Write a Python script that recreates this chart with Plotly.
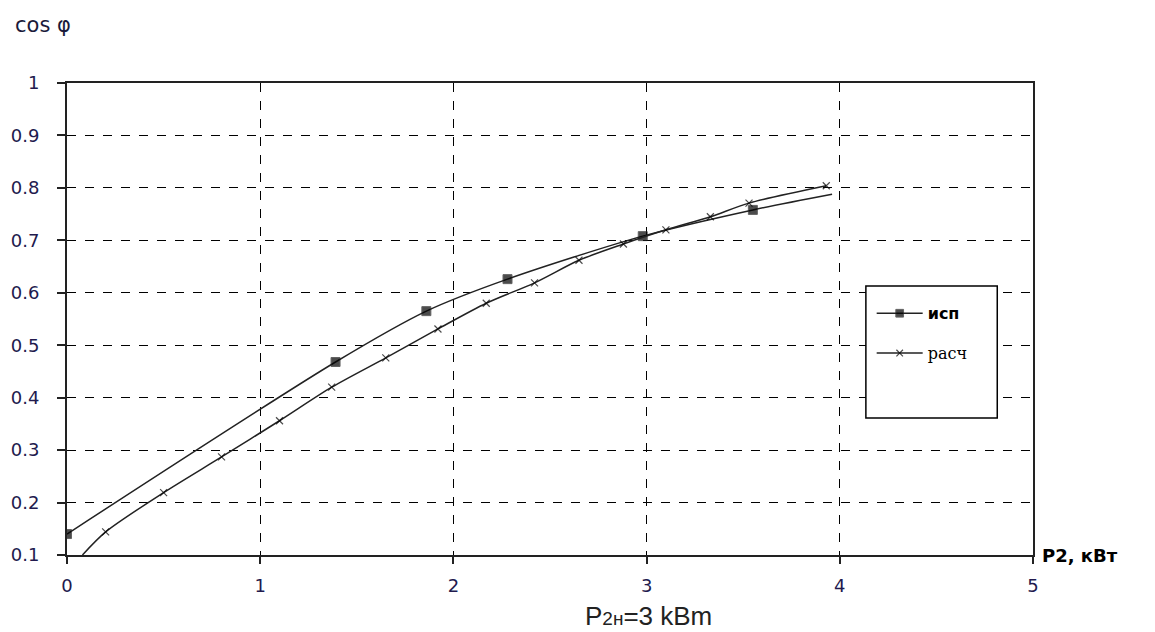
import plotly.graph_objects as go

# Data
isp_x = [0.0, 1.39, 1.86, 2.28, 2.98, 3.55, 3.96]
isp_y = [0.14, 0.468, 0.565, 0.626, 0.708, 0.758, 0.788]

rasch_x = [0.08, 0.2, 0.5, 0.8, 1.1, 1.37, 1.65, 1.92, 2.17, 2.42, 2.65, 2.88, 3.1, 3.33, 3.53, 3.93]
rasch_y = [0.1, 0.144, 0.219, 0.287, 0.356, 0.42, 0.476, 0.531, 0.58, 0.619, 0.662, 0.693, 0.72, 0.745, 0.771, 0.804]

x_ticks = [0, 1, 2, 3, 4, 5]
y_ticks = [0.1, 0.2, 0.3, 0.4, 0.5, 0.6, 0.7, 0.8, 0.9, 1]
y_tick_text = ["0.1", "0.2", "0.3", "0.4", "0.5", "0.6", "0.7", "0.8", "0.9", "1"]

label_color = "#221a4e"
tick_font = dict(family="DejaVu Sans, sans-serif", size=18, color=label_color)

fig = go.Figure()

isp_sizes = [9] * (len(isp_x) - 1) + [0]
fig.add_trace(go.Scatter(
    x=isp_x, y=isp_y, mode="lines+markers", name="<b>исп</b>",
    line=dict(color="#222", width=1.5, shape="spline", smoothing=0.8),
    marker=dict(symbol="square", size=isp_sizes, color="black"),
    legendgroup="a",
))
rasch_sizes = [0] + [7] * (len(rasch_x) - 1)
fig.add_trace(go.Scatter(
    x=rasch_x, y=rasch_y, mode="lines+markers",
    name="<span style=\"font-family:DejaVu Serif, serif\">расч</span>",
    line=dict(color="#222", width=1.5, shape="spline", smoothing=0.8),
    marker=dict(symbol="x-thin", size=rasch_sizes, color="black",
                line=dict(color="black", width=1.2)),
    legendgroup="b",
))

# legend frame
fig.add_shape(type="rect", xref="paper", yref="paper",
              x0=0.827, x1=0.963, y0=0.290, y1=0.570,
              fillcolor="white", line=dict(color="black", width=1.5), layer="above")

fig.update_layout(
    width=1155, height=632,
    margin=dict(l=67, r=122, t=83, b=77),
    paper_bgcolor="white", plot_bgcolor="white",
    font=dict(family="DejaVu Sans, sans-serif", size=16, color=label_color),
    showlegend=True,
    legend=dict(x=0.833, y=0.548, xanchor="left", yanchor="top",
                bgcolor="rgba(0,0,0,0)", borderwidth=0,
                font=dict(family="DejaVu Sans, sans-serif", size=16, color="black"),
                tracegroupgap=16, itemwidth=46),
    xaxis=dict(range=[0, 5], tickvals=x_ticks, ticktext=[str(v) for v in x_ticks],
               showgrid=True, gridcolor="black", griddash="dash", gridwidth=1.3,
               showline=True, linecolor="#222", linewidth=2, mirror=True,
               ticks="outside", ticklen=7, tickcolor="#222", tickwidth=1.5,
               ticklabelstandoff=6, zeroline=False,
               tickfont=tick_font),
    yaxis=dict(range=[0.1, 1], tickvals=y_ticks, ticktext=y_tick_text,
               showgrid=True, gridcolor="black", griddash="dash", gridwidth=1.3,
               showline=True, linecolor="#222", linewidth=2, mirror=True,
               ticks="outside", ticklen=8, tickcolor="#222", tickwidth=1.5,
               ticklabelstandoff=14, zeroline=False,
               tickfont=tick_font),
    annotations=[
        dict(text="cos φ", xref="paper", yref="paper", x=-0.056, y=1.123,
             xanchor="left", yanchor="middle", showarrow=False,
             font=dict(family="DejaVu Sans, sans-serif", size=21, color="#1a1a3a")),
        dict(text="<b>P2, кВт</b>", xref="paper", yref="paper", x=1.007, y=0.0,
             xanchor="left", yanchor="middle", showarrow=False,
             font=dict(family="DejaVu Sans, sans-serif", size=18, color="black")),
        dict(text="P<span style=\"font-size:19px\">2н</span>=3 kBm", xref="paper", yref="paper",
             x=0.602, y=-0.129, xanchor="center", yanchor="middle", showarrow=False,
             font=dict(family="Arial, Liberation Sans, sans-serif", size=26, color="#222")),
    ],
)

fig.write_html("out.html")
